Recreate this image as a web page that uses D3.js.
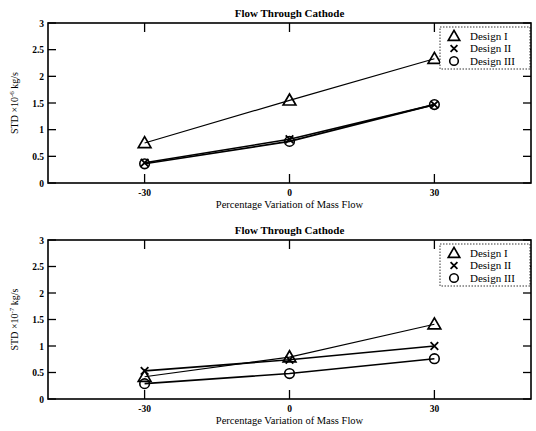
<!DOCTYPE html>
<html><head><meta charset="utf-8">
<script src="https://cdn.jsdelivr.net/npm/d3@7"></script>
<style>body{margin:0;background:#fff}svg{display:block}text{font-family:"Liberation Serif","DejaVu Serif",serif;fill:#000}</style>
</head><body><svg id="c" width="536" height="431"></svg>
<script>
const xValues = [-30, 0, 30];
const xTicks = [-30, 0, 30];
const yTicks = [0, 0.5, 1, 1.5, 2, 2.5, 3];
const seriesNames = ["Design I", "Design II", "Design III"];
const seriesMarkers = ["triangle", "cross", "circle"];
const top1 = [0.75, 1.55, 2.33];
const top2 = [0.38, 0.82, 1.47];
const top3 = [0.36, 0.78, 1.47];
const bot1 = [0.42, 0.79, 1.41];
const bot2 = [0.53, 0.74, 1.00];
const bot3 = [0.29, 0.48, 0.76];
const panels = [
  {title: "Flow Through Cathode", exp: "-6", series: [top1, top2, top3], top: 23, bottom: 183},
  {title: "Flow Through Cathode", exp: "-7", series: [bot1, bot2, bot3], top: 240, bottom: 399}
];
const svg = d3.select("#c");
const L = 48, R = 531;
const x = d3.scaleLinear().domain([-50, 50]).range([L, R]);

function marker(g, type, cx, cy, s) {
  if (type === "triangle") {
    g.append("path").attr("d", d3.symbol(d3.symbolTriangle, s*s*0.7)())
      .attr("transform", `translate(${cx},${cy+1})`).attr("fill", "none").attr("stroke", "#000").attr("stroke-width", 1.7);
  } else if (type === "cross") {
    const h = s*0.38;
    g.append("path").attr("d", `M${cx-h},${cy-h}L${cx+h},${cy+h}M${cx-h},${cy+h}L${cx+h},${cy-h}`)
      .attr("stroke", "#000").attr("stroke-width", 1.8);
  } else {
    g.append("circle").attr("cx", cx).attr("cy", cy).attr("r", s*0.48)
      .attr("fill", "none").attr("stroke", "#000").attr("stroke-width", 1.6);
  }
}

panels.forEach(p => {
  const y = d3.scaleLinear().domain([0, 3]).range([p.bottom, p.top]);
  const g = svg.append("g");
  const ax = g.append("g");
  xTicks.forEach(t => {
    ax.append("line").attr("x1", x(t)).attr("x2", x(t)).attr("y1", p.bottom).attr("y2", p.bottom-9).attr("stroke", "#000").attr("stroke-width", 1.3);
    ax.append("line").attr("x1", x(t)).attr("x2", x(t)).attr("y1", p.top).attr("y2", p.top+9).attr("stroke", "#000").attr("stroke-width", 1.3);
    ax.append("text").attr("x", x(t)).attr("y", p.bottom+13).attr("text-anchor", "middle")
      .attr("font-size", 9.5).attr("font-weight", "bold").text(String(t));
  });
  yTicks.forEach(t => {
    ax.append("line").attr("x1", L).attr("x2", L+8).attr("y1", y(t)).attr("y2", y(t)).attr("stroke", "#000").attr("stroke-width", 1.3);
    ax.append("line").attr("x1", R).attr("x2", R-8).attr("y1", y(t)).attr("y2", y(t)).attr("stroke", "#000").attr("stroke-width", 1.3);
    ax.append("text").attr("x", L-4).attr("y", y(t)+3.5).attr("text-anchor", "end")
      .attr("font-size", 9.5).attr("font-weight", "bold").text(String(t));
  });
  g.append("rect").attr("x", L).attr("y", p.top).attr("width", R-L).attr("height", p.bottom-p.top)
    .attr("fill", "none").attr("stroke", "#000").attr("stroke-width", 1.6);
  g.append("text").attr("x", (L+R)/2).attr("y", p.top-6).attr("text-anchor", "middle")
    .attr("font-size", 11).attr("font-weight", "bold").text(p.title);
  g.append("text").attr("x", (L+R)/2).attr("y", p.bottom+25).attr("text-anchor", "middle")
    .attr("font-size", 10.5).text("Percentage Variation of Mass Flow");
  const yl = g.append("text").attr("transform", `translate(${L-30},${(p.top+p.bottom)/2}) rotate(-90)`)
    .attr("text-anchor", "middle").attr("font-size", 10);
  yl.append("tspan").text("STD ×10");
  yl.append("tspan").attr("dy", -4).attr("font-size", 7).text(p.exp);
  yl.append("tspan").attr("dy", 4).text(" kg/s");
  const line = d3.line().x((d, i) => x(xValues[i])).y(d => y(d));
  p.series.forEach((s, k) => {
    g.append("path").datum(s).attr("d", line).attr("fill", "none").attr("stroke", "#000")
      .attr("stroke-width", k === 0 ? 1.2 : 1.6);
  });
  p.series.forEach((s, k) => {
    s.forEach((v, i) => marker(g, seriesMarkers[k], x(xValues[i]), y(v), 10));
  });
  const lx = 440, ly = p.top + 4, lw = 90, lh = 42;
  g.append("rect").attr("x", lx).attr("y", ly).attr("width", lw).attr("height", lh)
    .attr("fill", "#fff").attr("stroke", "#000").attr("stroke-width", 0.8).attr("stroke-dasharray", "1.5,1.5");
  seriesNames.forEach((n, k) => {
    const cy = ly + 9 + k*12.5;
    marker(g, seriesMarkers[k], lx + 14, cy, 9);
    g.append("text").attr("x", lx + 30).attr("y", cy + 3.5).attr("font-size", 11).text(n);
  });
});
</script></body></html>
